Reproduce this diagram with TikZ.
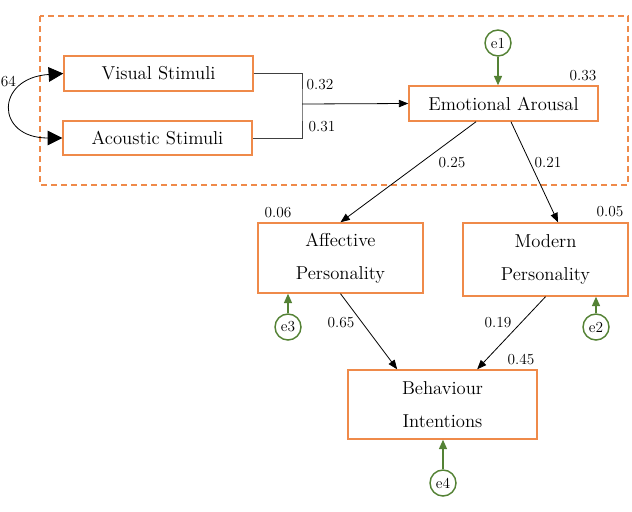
\documentclass[tikz,border=0pt]{standalone}
\usetikzlibrary{arrows.meta}
\definecolor{boxorange}{HTML}{EF8A4A}
\definecolor{errgreen}{HTML}{548235}

\begin{document}
\begin{tikzpicture}[x=0.75pt, y=-0.75pt,
  varbox/.style={draw=boxorange, line width=1.1pt, align=center, inner sep=0pt,
    font=\fontsize{14}{25}\selectfont},
  errnode/.style={draw=errgreen, circle, line width=1.1pt, inner sep=0pt,
    minimum size=19.5pt, font=\fontsize{11.5}{13}\selectfont},
  lbl/.style={font=\fontsize{11.5}{13}\selectfont, inner sep=0pt},
  path/.style={line width=0.6pt, -{Triangle[length=7pt,width=5.5pt]}},
  joint/.style={draw=black!75, line width=0.6pt},
  errpath/.style={draw=errgreen, line width=1.1pt, -{Triangle[length=7pt,width=6pt]}},
  corr/.style={line width=0.6pt, {Triangle[length=11pt,width=11pt]}-{Triangle[length=11pt,width=11pt]}}]
\useasboundingbox (0,0) rectangle (632,511);
\draw[boxorange, line width=1.1pt, dash pattern=on 4.5pt off 3pt] (40,16) rectangle (628,185);
% observed variables
\node[varbox, minimum width=141.75pt, minimum height=26.25pt] (vis) at (158.5,73.5) {Visual Stimuli};
\node[varbox, minimum width=141.75pt, minimum height=25.5pt] (aco) at (157.5,138) {Acoustic Stimuli};
\node[varbox, minimum width=141.75pt, minimum height=26.25pt] (ea) at (503.5,103.5) {Emotional Arousal};
\node[varbox, minimum width=123.75pt, minimum height=52.5pt] (aff) at (340.5,258) {Affective\\Personality};
\node[varbox, minimum width=123.75pt, minimum height=54.75pt] (mod) at (545.5,259.5) {Modern\\Personality};
\node[varbox, minimum width=141.75pt, minimum height=51.75pt] (beh) at (442.5,404.5) {Behaviour\\Intentions};
% error terms
\node[errnode] (e1) at (498,43) {e1};
\node[errnode] (e2) at (596,327) {e2};
\node[errnode] (e3) at (288,327) {e3};
\node[errnode] (e4) at (443,483) {e4};
\draw[errpath] (e1) -- (e1 |- ea.north);
\draw[errpath] (e2) -- (e2 |- mod.south);
\draw[errpath] (e3) -- (e3 |- aff.south);
\draw[errpath] (e4) -- (e4 |- beh.south);
% paths
\coordinate (jn) at (302,104);
\draw[joint] (vis.east) -| (jn) |- (aco.east);
\draw[path] (jn) -- (ea.west);
\draw[path] ([xshift=-20.6pt]ea.south) -- (aff.north);
\draw[path] ([xshift=5.6pt]ea.south) -- ([xshift=9.4pt]mod.north);
\draw[path] (aff.south) -- ([xshift=-34pt]beh.north);
\draw[path] (mod.south) -- ([xshift=26pt]beh.north);
\draw[corr] (vis.west) .. controls (-5,78) and (-5,138) .. (aco.west);
% estimates
\node[lbl, anchor=west] (c64) at (0.5,81) {64};
\node[lbl] (w32) at (320,85) {0.32};
\node[lbl] (w31) at (322,127) {0.31};
\node[lbl] (r33) at (583,76) {0.33};
\node[lbl] (w25) at (452,163) {0.25};
\node[lbl] (w21) at (548,163) {0.21};
\node[lbl] (r06) at (278,213) {0.06};
\node[lbl] (r05) at (610,212) {0.05};
\node[lbl] (w65) at (341,323) {0.65};
\node[lbl] (w19) at (498,323) {0.19};
\node[lbl] (r45) at (521,359) {0.45};
\end{tikzpicture}
\end{document}
